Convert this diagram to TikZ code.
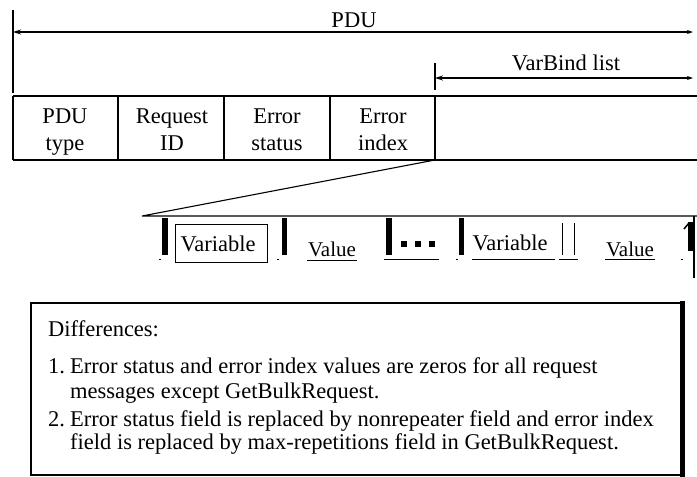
\documentclass[tikz,border=0pt]{standalone}
\usepackage{fontspec}
\setmainfont{Liberation Serif}
\usetikzlibrary{arrows.meta}
\begin{document}
\begin{tikzpicture}[x=1pt,y=-1pt,
  txt/.style={font=\fontsize{22.5}{27}\selectfont, inner sep=0pt, anchor=base},
  valtxt/.style={font=\fontsize{21}{25}\selectfont, inner sep=0pt, anchor=base},
  notetxt/.style={font=\fontsize{22.5}{27}\selectfont, inner sep=0pt, anchor=base west},
  rule/.style={line width=1.1pt},
  heavy/.style={line width=2pt},
  thinrule/.style={line width=0.9pt},
  span/.style={line width=1.1pt, {Stealth[length=8pt,width=5pt]}-{Stealth[length=6pt,width=4pt]}},
  bar/.style={fill=black, draw=none},
]
\useasboundingbox (0,0) rectangle (697,477);

% ---- overall PDU extent ----
\coordinate (pduL) at (13,32);
\coordinate (pduR) at (693,32);
\coordinate (pduTop) at (13,10);
\coordinate (pduFoot) at (13,93);
\draw[rule] (pduTop) -- (pduFoot);
\draw[span] (pduL) -- (pduR);
\node[txt] (pdutitle) at (354,27) {PDU};

% ---- VarBind list extent ----
\coordinate (vbL) at (435,78);
\coordinate (vbR) at (693,78);
\coordinate (vbTop) at (435,63);
\coordinate (vbFoot) at (435,90);
\draw[rule] (vbTop) -- (vbFoot);
\draw[span] (vbL) -- (vbR);
\node[txt] (vbtitle) at (566,70) {VarBind list};

% ---- header fields ----
\coordinate (hTL) at (13,96);
\coordinate (hTR) at (697,96);
\coordinate (hBL) at (13,160);
\coordinate (hBR) at (697,160);
\draw[rule] (hTL) -- (hTR);
\draw[heavy] (hBL) -- (hBR);
\draw[rule] (hTL) -- (hBL);
\foreach \xx in {118,224,330,435} \draw[rule] (\xx,96) -- (\xx,160);

\node[txt] (f1a) at (65,123) {PDU};
\node[txt] (f1b) at (65,150) {type};
\node[txt] (f2a) at (172,123) {Request};
\node[txt] (f2b) at (172,150) {ID};
\node[txt] (f3a) at (277,123) {Error};
\node[txt] (f3b) at (277,150) {status};
\node[txt] (f4a) at (383,123) {Error};
\node[txt] (f4b) at (383,150) {index};

% ---- expansion of the VarBind list ----
\coordinate (zA) at (435,160);
\coordinate (zB) at (142,216);
\coordinate (zC) at (697,216);
\coordinate (rEdgeTop) at (694,216);
\coordinate (rEdgeFoot) at (694,278);
\draw[rule] (zA) -- (zB) -- (zC);
\draw[rule] (rEdgeTop) -- (rEdgeFoot);

% separators
\fill[bar] (162,218) rectangle (168,255);
\fill[bar] (282,218) rectangle (287,255);
\fill[bar] (386,218) rectangle (392,255);
\fill[bar] (459,218) rectangle (464,255);
\fill[bar] (688,222) rectangle (693,251);
\draw[line width=1.5pt] (689,223) -- (684,229);
\draw[thinrule] (562,223) -- (562,255);
\draw[thinrule] (574,223) -- (574,255);

% first pair
\node[txt] (var1) at (218,251) {Variable};
\draw[line width=1pt] (175,224) rectangle (267,262);
\node[valtxt] (val1) at (332,256) {Value};
\draw[thinrule] (307,260) -- (357,260);

% ellipsis
\foreach \cx in {404,418,432} \fill (\cx-3,241) rectangle (\cx+3,247);
\draw[thinrule] (384,259) -- (439,259);

% last pair
\node[txt] (var2) at (510,250) {Variable};
\draw[thinrule] (472,259) -- (555,259);
\draw[thinrule] (559,259) -- (578,259);
\node[valtxt] (val2) at (630,256) {Value};
\draw[thinrule] (605,259) -- (655,259);

% baseline specks
\foreach \sx in {160,278,457,682} \draw[thinrule] (\sx-1,259) -- (\sx+1,259);

% ---- notes ----
\coordinate (nTL) at (31,303);
\coordinate (nBR) at (682,475);
\draw[line width=1.5pt] (nTL) rectangle (nBR);
\draw[line width=2.5pt] (31,475) -- (682,475);
\draw[line width=5pt] (682,301) -- (682,477);

\node[notetxt] (dh) at (48,336) {Differences:};
\node[notetxt] (n1) at (48,373) {1.};
\node[notetxt] (n1a) at (70,373) {Error status and error index values are zeros for all request};
\node[notetxt] (n1b) at (70,398) {messages except GetBulkRequest.};
\node[notetxt] (n2) at (48,426) {2.};
\node[notetxt] (n2a) at (70,426) {Error status field is replaced by nonrepeater field and error index};
\node[notetxt] (n2b) at (70,449) {field is replaced by max-repetitions field in GetBulkRequest.};
\end{tikzpicture}
\end{document}
